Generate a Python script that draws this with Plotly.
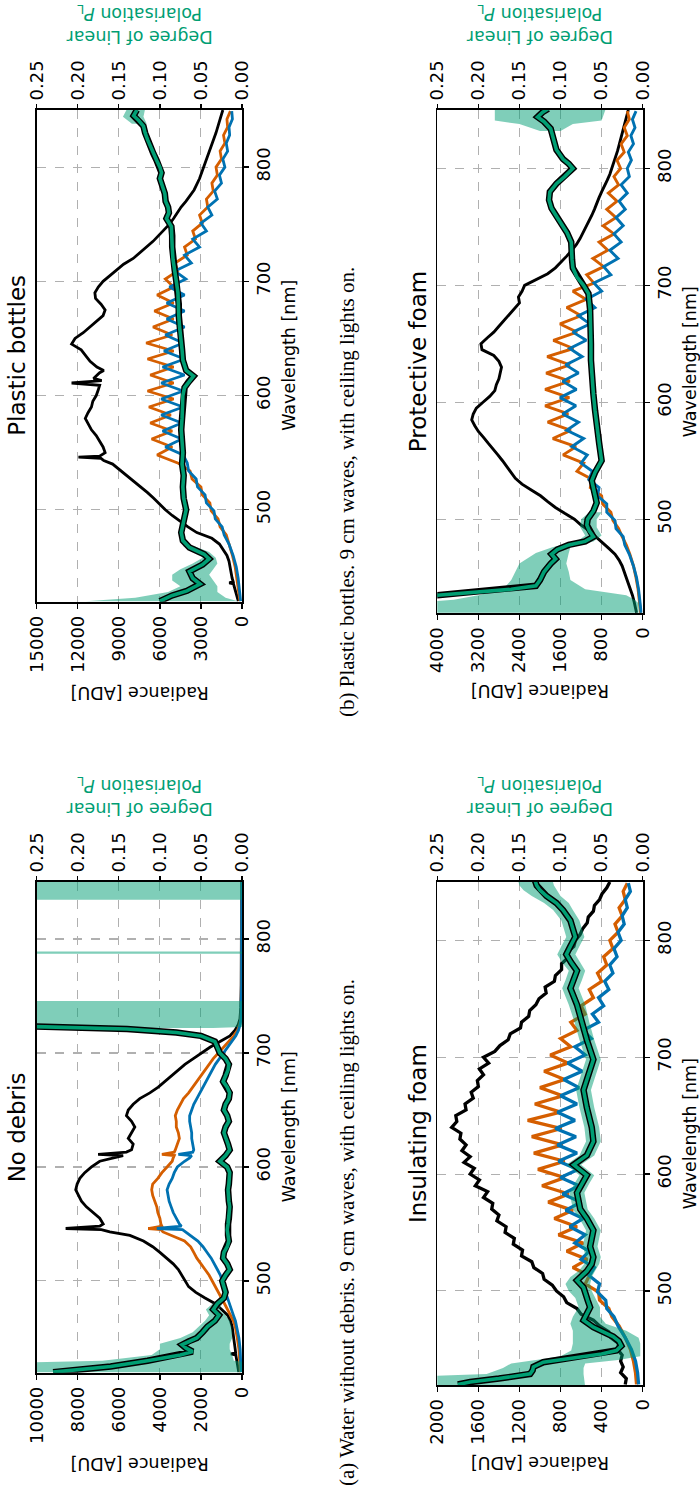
import plotly.graph_objects as go

W, H = 700, 1496
GREEN = '#009E73'
ORANGE = '#D55E00'
BLUE = '#0072B2'
BAND_FILL = 'rgba(0,158,115,0.5)'
GRID = '#b0b0b0'
FONT = 'DejaVu Sans'
WL_RANGE = [419.5, 850]
WL_TICKS = [500, 600, 700, 800]
DOLP_TICKS = [0.00, 0.05, 0.10, 0.15, 0.20, 0.25]
DOLP_TICKTEXT = ['0.00', '0.05', '0.10', '0.15', '0.20', '0.25']

# ---------------- shared wavelength grid for oscillating polarisation channels
OSC_WL = [420, 430, 440, 450, 460, 470, 478, 485, 492, 499, 506, 513, 520, 527, 534, 541,
          548, 555, 562, 569, 576, 583, 590, 597, 604, 611, 618, 625, 632, 639, 646, 653,
          660, 667, 674, 681, 688, 695, 702, 709, 716, 723, 730, 737, 744, 751, 758, 765,
          772, 779, 786, 793, 800, 807, 814, 821, 828, 835, 842, 849]
GRID5 = list(range(420, 851, 5))

# ================= (a) No debris =================
A_RAD_TICKS = [0, 2000, 4000, 6000, 8000, 10000]
A_BLACK_WL = [420, 425, 430, 435, 436, 437,
              440, 445, 450, 455, 460, 465, 470, 475, 480, 485, 490, 495, 500, 505, 510, 515,
              520, 525, 530, 535, 540,
              543, 545, 546, 548, 550,
              555, 560, 565, 570, 575, 580, 585, 590, 595, 600, 605,
              608, 610, 611, 613, 615,
              620, 625, 630, 635, 640, 645, 650, 655, 660, 665, 670, 675, 680, 685, 690, 695,
              700, 705, 710, 715, 720, 725, 730,
              740, 760, 800, 850]
A_BLACK = [160, 200, 250, 300, 540, 310,
           330, 370, 400, 430, 480, 560, 700, 990, 1300, 1800, 2250, 2600, 2780, 2950, 3100, 3350,
           3650, 4000, 4350, 4800, 5460,
           6440, 6850, 8590, 6930, 6760,
           6930, 7250, 7580, 7820, 7980, 8100, 8030, 7900, 7660, 7330, 6930,
           6280, 5790, 7010, 5630, 5380,
           5300, 5540, 5380, 5220, 5380, 5630, 5540, 5300, 4980, 4490, 4080, 3760, 3430, 3110,
           2780, 2370, 1970, 1560, 1070, 590, 340, 180, 100,
           60, 40, 30, 20]
A_POL_WL = [420, 430, 440, 450, 460,
            465, 470, 475, 480, 485, 490, 495, 500,
            505, 510, 515, 520, 525, 530, 535, 540,
            543, 545, 546, 548, 550,
            555, 560, 565, 570, 575, 580, 585, 590, 595, 600,
            605, 608, 610, 611, 613, 615,
            620, 625, 630, 635, 640, 645, 650, 655, 660, 665,
            670, 675, 680, 685, 690, 695, 700, 705, 710, 715,
            720, 725, 730, 740, 760, 800, 850]
A_ORANGE = [80, 110, 150, 230, 330,
            420, 550, 700, 850, 1000, 1150, 1300, 1450,
            1600, 1800, 2000, 2200, 2350, 2500, 2800, 3500,
            3850, 3950, 4570, 3900, 3950,
            4000, 4100, 4150, 4250, 4350, 4400, 4350, 4100, 3900, 3650,
            3400, 3350, 3300, 3900, 3300, 3250,
            3150, 3050, 3100, 3200, 3200, 3250, 3150, 3000, 2850, 2600,
            2400, 2200, 2000, 1800, 1600, 1400, 1150, 900, 650, 400,
            220, 110, 60, 30, 20, 20, 10]
A_BLUE = [40, 60, 90, 150, 250,
          320, 420, 520, 620, 720, 800, 880, 950,
          1050, 1200, 1350, 1500, 1700, 1900, 2150, 2500,
          2750, 2900, 4150, 2950, 3050,
          3200, 3350, 3450, 3550, 3600, 3650, 3550, 3400, 3300, 3150,
          2800, 2550, 2450, 3100, 2400, 2350,
          2400, 2450, 2450, 2500, 2550, 2550, 2450, 2350, 2200, 2050,
          1900, 1750, 1600, 1450, 1300, 1100, 900, 700, 500, 300,
          170, 90, 50, 30, 20, 20, 10]
A_DOLP_WL = [420, 425, 430, 435, 438, 441, 444, 447, 450,
             455, 460, 465, 470, 475, 480, 485, 490, 495, 500,
             505, 510, 515, 520, 525, 530, 535, 540, 545, 550,
             555, 560, 565, 570, 575, 580, 585, 590, 595, 600,
             605, 610, 615, 620, 625, 630, 635, 640, 645, 650,
             655, 660, 665, 670, 675, 680, 685, 690, 695, 700,
             705, 710, 715, 718, 721, 723, 725, 728]
A_DOLP = [0.23, 0.16, 0.115, 0.075, 0.06, 0.068, 0.073, 0.065, 0.055,
          0.048, 0.042, 0.033, 0.028, 0.035, 0.03, 0.022, 0.02, 0.022, 0.024,
          0.02, 0.015, 0.018, 0.023, 0.022, 0.018, 0.016, 0.017, 0.018, 0.017,
          0.016, 0.015, 0.015, 0.016, 0.017, 0.017, 0.016, 0.015, 0.015, 0.018,
          0.027, 0.02, 0.015, 0.017, 0.02, 0.022, 0.02, 0.016, 0.018, 0.022,
          0.02, 0.016, 0.015, 0.018, 0.023, 0.02, 0.017, 0.016, 0.02, 0.027,
          0.03, 0.033, 0.05, 0.08, 0.14, 0.2, 0.3, 0.5]
A_BAND_WL = [420, 425, 428, 430, 435, 440, 445, 450, 455, 460, 465, 470, 475, 480, 485, None,
             722, 723, 745.5, None, 787, 789, None, 834.5, 851]
A_BAND_LO = [-0.01, -0.01, -0.01, 0.01, 0.012, 0.015, 0.015, 0.012, 0.012, 0.013, 0.015, 0.02, 0.028, 0.024, 0.02, None,
             0.035, -0.01, -0.01, None, -0.01, -0.01, None, -0.01, -0.01]
A_BAND_HI = [0.3, 0.3, 0.3, 0.17, 0.11, 0.10, 0.10, 0.075, 0.06, 0.052, 0.045, 0.04, 0.044, 0.036, 0.025, None,
             0.3, 0.3, 0.3, None, 0.3, 0.3, None, 0.3, 0.3]

# ================= (b) Plastic bottles =================
B_RAD_TICKS = [0, 3000, 6000, 9000, 12000, 15000]
B_BLACK_WL = [420, 425, 430, 435, 436, 437,
              440, 445, 450, 455, 460, 465, 470, 475, 480, 485, 490, 495, 500, 505, 510, 515,
              520, 525, 530, 535, 540,
              543, 545, 546, 547, 550,
              555, 560, 565, 570, 575, 580, 585, 590, 595, 600, 605,
              609, 611, 613, 615,
              620, 622, 625,
              630, 635, 640, 645, 650, 655, 660, 665, 670, 675, 680, 685, 690, 695, 700, 705,
              710, 715, 720, 725, 730, 735, 740, 745, 750, 755, 760, 765, 770, 775, 780,
              790, 800, 810, 820, 830, 840, 850]
B_BLACK = [270, 400, 500, 620, 930, 640,
           720, 800, 880, 950, 1100, 1350, 1650, 2200, 3300, 3950, 4550, 5100, 5600, 6000, 6450, 6900,
           7400, 7900, 8400, 8900, 9450,
           10100, 10300, 11950, 10400, 10000,
           10150, 10400, 10650, 11000, 11250, 11450, 11250, 11000, 10900, 10650, 10500,
           10400, 12450, 10250, 10850,
           10400, 10100, 10600,
           11100, 11400, 11750, 12450, 12200, 11600, 11100, 10650, 10150, 10000, 10300, 10700, 10750, 10500, 10150, 9650,
           9150, 8650, 7950, 7450, 6950, 6500, 6100, 5700, 5300, 5000, 4750, 4450, 4100, 3800, 3500,
           3100, 2800, 2450, 2150, 1900, 1650, 1400]
B_ORANGE = [150, 250, 350, 500, 700, 950,
            1150, 1600, 1750, 2250, 2350, 2900, 3000, 3650, 3800, 4700,
            6200, 5100, 6600, 5100, 6700, 5200, 6800, 5000, 6900, 5000,
            6700, 5000, 6900, 5000, 7000, 5100, 6500, 5000, 6400, 5000,
            6200, 5000, 5600, 4700, 4900, 4000, 4200, 3400, 3600, 2900,
            3100, 2500, 2600, 2100, 2200, 1800, 1900, 1500, 1600, 1250,
            1350, 1050, 1100, 850]
B_BLUE = [100, 180, 280, 420, 650, 950,
          1300, 1450, 1950, 2050, 2600, 2700, 3250, 3350, 3900, 4000,
          4300, 5600, 4400, 5800, 4400, 5900, 4300, 5900, 4300, 5900,
          4200, 5800, 4200, 5700, 4300, 5600, 4200, 5500, 4200, 5500,
          4200, 5300, 4100, 4900, 3700, 4200, 3100, 3600, 2600, 3000,
          2200, 2500, 1800, 2000, 1500, 1650, 1250, 1400, 1050, 1150,
          900, 950, 700, 750]
B_DOLP_WL = [420, 425, 429, 435, 440, 446, 452, 457, 461, 467,
             473, 480, 490, 500, 510, 520, 530, 540, 550, 560,
             570, 580, 590, 600, 607, 612, 617, 622, 631, 640,
             650, 660, 670, 680, 690, 700, 710, 719, 730, 740,
             748, 755, 760, 765, 770, 777, 785, 790, 795, 800,
             806, 812, 818, 824, 830, 836, 841, 845, 850]
B_DOLP = [0.10, 0.085, 0.067, 0.051, 0.06, 0.064, 0.048, 0.04, 0.046, 0.064,
          0.072, 0.074, 0.071, 0.068, 0.071, 0.072, 0.071, 0.073, 0.072, 0.073,
          0.074, 0.073, 0.072, 0.072, 0.07, 0.065, 0.059, 0.068, 0.072, 0.073,
          0.075, 0.076, 0.077, 0.077, 0.078, 0.08, 0.082, 0.084, 0.085, 0.085,
          0.086, 0.092, 0.089, 0.09, 0.093, 0.094, 0.097, 0.1, 0.098, 0.1,
          0.104, 0.108, 0.112, 0.115, 0.118, 0.12, 0.126, 0.132, 0.128]
B_BAND_WL = [420, 423, 428, 433, 438, 443, 448, 453, 458, 463, 468, None, 838, 844, 851]
B_BAND_LO = [0.005, 0.02, 0.03, 0.03, 0.035, 0.04, 0.035, 0.03, 0.032, 0.04, 0.058, None, 0.116, 0.12, 0.118]
B_BAND_HI = [0.19, 0.13, 0.09, 0.075, 0.085, 0.085, 0.075, 0.06, 0.048, 0.055, 0.072, None, 0.134, 0.145, 0.14]

# ================= (c) Insulating foam =================
C_RAD_TICKS = [0, 400, 800, 1200, 1600, 2000]
C_BLACK = [170, 160, 215, 190, 215, 200, 245, 235, 310, 330, 420, 480, 600, 640, 740, 770, 840,
           880, 960, 975, 1060, 1080, 1180, 1170, 1260, 1250, 1340, 1330, 1420, 1400, 1470, 1460,
           1550, 1510, 1630, 1590, 1680,
           1640, 1740, 1680, 1760, 1720, 1780, 1770, 1860, 1810, 1820, 1720, 1730, 1650, 1670, 1600,
           1610, 1550, 1590, 1500, 1550,
           1440, 1390, 1310, 1290, 1190, 1180, 1110, 1100, 1040, 1010, 940, 950, 860, 850, 790,
           790, 730, 730, 670, 655,
           610, 585, 540, 530, 480, 470, 420, 395, 350, 320]
C_ORANGE = [60, 70, 90, 120, 170, 230,
            300, 330, 420, 430, 560, 520, 680, 540, 740, 580,
            820, 640, 860, 680, 920, 720, 980, 760, 1020, 760,
            1060, 780, 1080, 790, 1120, 800, 1050, 780, 1000, 760,
            960, 730, 900, 700, 800, 640, 700, 560, 600, 480,
            520, 400, 440, 350, 380, 290, 320, 240, 270, 200,
            230, 170, 190, 150]
C_BLUE = [40, 50, 70, 110, 170, 240,
          280, 350, 360, 440, 420, 520, 470, 600, 520, 660,
          560, 710, 580, 750, 600, 780, 620, 800, 630, 820,
          640, 830, 650, 850, 660, 830, 640, 800, 620, 770,
          590, 730, 560, 660, 500, 580, 430, 490, 380, 430,
          330, 370, 290, 320, 250, 280, 210, 240, 180, 200,
          150, 170, 120, 140]
C_DOLP_WL = [420, 422, 425, 429, 432, 435, 439, 442, 446, 449,
             453, 457, 461, 465, 469, 475, 481, 486, 492, 498,
             503, 509, 517, 523, 529, 538, 552, 562, 570, 584,
             592, 599, 608, 616, 628, 640, 657, 672, 685, 698,
             715, 730, 745, 759, 766, 774, 781, 788, 795, 803,
             810, 817, 826, 832, 838, 843, 847, 851]
C_DOLP = [0.225, 0.21, 0.175, 0.137, 0.134, 0.133, 0.121, 0.09, 0.05, 0.032,
          0.026, 0.029, 0.036, 0.048, 0.06, 0.072, 0.068, 0.064, 0.067, 0.07,
          0.072, 0.08, 0.068, 0.062, 0.06, 0.064, 0.06, 0.068, 0.076, 0.08,
          0.074, 0.068, 0.084, 0.068, 0.06, 0.062, 0.068, 0.072, 0.066, 0.06,
          0.068, 0.074, 0.08, 0.088, 0.084, 0.08, 0.087, 0.093, 0.088, 0.082,
          0.085, 0.088, 0.097, 0.105, 0.117, 0.125, 0.129, 0.131]
C_BAND_WL = [418, 426, 429, 434, 438, 441, 444, 449, 455, 460,
             466, 472, 478, 486, 494, 500, 506, 512, 517, 523,
             529, 538, 552, 562, 570, 584, 592, 599, 608, 616,
             628, 640, 657, 672, 685, 698, 715, 730, 745, 759,
             766, 774, 781, 788, 795, 803, 810, 817, 826, 832,
             838, 843, 847, 852]
C_BAND_LO = [0.07, 0.072, 0.072, 0.072, 0.07, 0.03, 0.003, 0.003, 0.003, 0.005,
             0.02, 0.045, 0.052, 0.052, 0.058, 0.062, 0.064, 0.062, 0.058, 0.053,
             0.051, 0.055, 0.051, 0.059, 0.067, 0.071, 0.065, 0.059, 0.075, 0.059,
             0.051, 0.053, 0.059, 0.063, 0.057, 0.051, 0.059, 0.065, 0.07, 0.078,
             0.074, 0.07, 0.076, 0.082, 0.077, 0.071, 0.074, 0.077, 0.085, 0.09,
             0.1, 0.105, 0.108, 0.11]
C_BAND_HI = [0.3, 0.3, 0.19, 0.17, 0.16, 0.13, 0.10, 0.087, 0.085, 0.085,
             0.085, 0.088, 0.085, 0.078, 0.082, 0.09, 0.094, 0.088, 0.078, 0.071,
             0.069, 0.073, 0.069, 0.077, 0.085, 0.089, 0.083, 0.077, 0.093, 0.077,
             0.069, 0.071, 0.077, 0.081, 0.075, 0.069, 0.077, 0.083, 0.09, 0.098,
             0.094, 0.09, 0.098, 0.104, 0.099, 0.093, 0.096, 0.099, 0.109, 0.12,
             0.135, 0.145, 0.15, 0.152]

# ================= (d) Protective foam =================
D_RAD_TICKS = [0, 800, 1600, 2400, 3200, 4000]
D_BLACK = [120, 140, 170, 200, 240, 290, 320, 360, 400, 460, 540, 660, 780, 900, 1040, 1200, 1330,
           1520, 1700, 1850, 1990, 2170, 2350, 2480, 2560, 2640, 2730, 2820, 2920, 3010, 3100, 3200,
           3270, 3330, 3300, 3240, 3110,
           2980, 2880, 2850, 2800, 2780, 2750, 2800, 2900, 3130, 3150, 3030, 2900, 2800, 2700, 2600,
           2490, 2400, 2420, 2350, 2300,
           2080, 1850, 1700, 1580, 1480, 1380, 1290, 1220, 1160, 1100, 1040, 990, 940, 900, 850,
           800, 740, 690, 640, 600,
           560, 520, 490, 460, 430, 400, 370, 340, 310, 280]
D_ORANGE = [40, 60, 90, 130, 180, 250,
            320, 400, 470, 580, 620, 780, 800, 1020, 980, 1280,
            1150, 1550, 1300, 1750, 1400, 1850, 1450, 1900, 1430, 1900,
            1420, 1880, 1420, 1860, 1350, 1740, 1280, 1610, 1200, 1480,
            1100, 1360, 950, 1090, 760, 970, 680, 850, 560, 770,
            520, 700, 500, 670, 470, 560, 430, 500, 360, 420,
            300, 360, 260, 300]
D_BLUE = [30, 50, 80, 120, 180, 260,
          350, 380, 520, 540, 700, 700, 880, 850, 1050, 980,
          1200, 1080, 1380, 1150, 1480, 1250, 1560, 1300, 1610, 1290,
          1560, 1250, 1500, 1180, 1420, 1100, 1360, 1030, 1250, 930,
          1100, 800, 950, 620, 760, 480, 640, 420, 560, 380,
          520, 340, 460, 300, 420, 260, 300, 220, 280, 180,
          230, 150, 200, 130]
D_DOLP_WL = [420, 430, 435, 440, 443, 448, 455, 462, 466, 470,
             474, 478, 481, 485, 490, 495, 500, 507, 514, 520,
             525, 533, 540, 550, 565, 579, 593, 607, 622, 636,
             650, 664, 679, 693, 700, 707, 715, 722, 730, 737,
             745, 751, 758, 766, 773, 780, 787, 793, 800, 804,
             808, 816, 825, 834, 840, 844, 848, 851]
D_DOLP = [0.45, 0.33, 0.25, 0.16, 0.13, 0.125, 0.12, 0.112, 0.106, 0.111,
          0.104, 0.09, 0.07, 0.06, 0.065, 0.068, 0.067, 0.06, 0.056, 0.058,
          0.059, 0.062, 0.058, 0.05, 0.053, 0.056, 0.058, 0.06, 0.062, 0.063,
          0.063, 0.063, 0.064, 0.066, 0.072, 0.08, 0.085, 0.086, 0.086, 0.087,
          0.092, 0.097, 0.104, 0.111, 0.114, 0.113, 0.105, 0.095, 0.085, 0.09,
          0.097, 0.105, 0.108, 0.112, 0.12, 0.128, 0.122, 0.115]
D_BAND_WL = [420, 428, 431, 435, 440, 448, 455, 462, 471, 476, 481, 486, 493, 500, 506, None,
             832, 838, 841, 851]
D_BAND_LO = [0.005, 0.005, 0.01, 0.02, 0.07, 0.088, 0.09, 0.093, 0.09, 0.088, 0.06, 0.05, 0.056, 0.056, 0.05, None,
             0.1, 0.085, 0.05, 0.045]
D_BAND_HI = [0.3, 0.3, 0.23, 0.2, 0.17, 0.16, 0.155, 0.15, 0.13, 0.11, 0.08, 0.07, 0.076, 0.075, 0.065, None,
             0.125, 0.15, 0.18, 0.18]

TITLES = ['No debris', 'Plastic bottles', 'Insulating foam', 'Protective foam']
CAPTIONS = ['(a) Water without debris. 9 cm waves, with ceiling lights on.',
            '(b) Plastic bottles. 9 cm waves, with ceiling lights on.']

PANELS = [
    dict(black_wl=A_BLACK_WL, black=A_BLACK, pol_wl=A_POL_WL, orange=A_ORANGE, blue=A_BLUE,
         dolp_wl=A_DOLP_WL, dolp=A_DOLP, band=(A_BAND_WL, A_BAND_LO, A_BAND_HI), ticks=A_RAD_TICKS),
    dict(black_wl=B_BLACK_WL, black=B_BLACK, pol_wl=OSC_WL, orange=B_ORANGE, blue=B_BLUE,
         dolp_wl=B_DOLP_WL, dolp=B_DOLP, band=(B_BAND_WL, B_BAND_LO, B_BAND_HI), ticks=B_RAD_TICKS),
    dict(black_wl=GRID5, black=C_BLACK, pol_wl=OSC_WL, orange=C_ORANGE, blue=C_BLUE,
         dolp_wl=C_DOLP_WL, dolp=C_DOLP, band=(C_BAND_WL, C_BAND_LO, C_BAND_HI), ticks=C_RAD_TICKS),
    dict(black_wl=GRID5, black=D_BLACK, pol_wl=OSC_WL, orange=D_ORANGE, blue=D_BLUE,
         dolp_wl=D_DOLP_WL, dolp=D_DOLP, band=(D_BAND_WL, D_BAND_LO, D_BAND_HI), ticks=D_RAD_TICKS),
]

# layout geometry in pixels (left, right, top, bottom) of each axes box
BOXES = [(36.7, 242.0, 882.0, 1372.7),
         (36.7, 242.0, 110.0, 601.7),
         (437.3, 642.7, 882.0, 1385.0),
         (437.3, 642.7, 110.0, 613.3)]
LINE_W = [2.8, 2.8, 3.3, 2.9]
RAD_LABEL_Y = [1464, 693, 1463, 691]
CAPTION_POS = [(347, 1233), (347, 492)]

for p in PANELS:
    assert len(p['black_wl']) == len(p['black'])
    assert len(p['pol_wl']) == len(p['orange']) == len(p['blue'])
    assert len(p['dolp_wl']) == len(p['dolp'])
    assert len(p['band'][0]) == len(p['band'][1]) == len(p['band'][2])


def band_polygon(wl, lo, hi):
    xs, ys, seg = [], [], []
    for w, l, h in zip(list(wl) + [None], list(lo) + [None], list(hi) + [None]):
        if w is None:
            if seg:
                xs += [s[1] for s in seg] + [s[2] for s in reversed(seg)] + [None]
                ys += [s[0] for s in seg] + [s[0] for s in reversed(seg)] + [None]
            seg = []
        else:
            seg.append((w, l, h))
    return xs, ys


def axref(prefix, n):
    return prefix if n == 1 else f'{prefix}{n}'


fig = go.Figure()
layout = {}
annotations = []


def ann(text, px, py, size, angle, color='black', family=FONT):
    return dict(text=text, x=px / W, y=1 - py / H, xref='paper', yref='paper', showarrow=False,
                textangle=angle, font=dict(family=family, size=size, color=color),
                xanchor='center', yanchor='middle')


for i, p in enumerate(PANELS):
    nx_r, nx_d, ny = 2 * i + 1, 2 * i + 2, i + 1
    xr, xd, yy = axref('x', nx_r), axref('x', nx_d), axref('y', ny)
    left, right, top, bottom = BOXES[i]
    xdom = [left / W, right / W]
    ydom = [1 - bottom / H, 1 - top / H]
    rmax = p['ticks'][-1]
    lw = LINE_W[i]

    common_tick = dict(ticks='outside', ticklen=5, tickwidth=1.3, tickcolor='black',
                       tickfont=dict(family=FONT, size=18, color='black'), tickangle=-90,
                       zeroline=False, fixedrange=True, automargin=False)
    layout[axref('xaxis', nx_r)] = dict(domain=xdom, anchor=yy, range=[rmax, 0], autorange=False,
                                        tickmode='array', tickvals=p['ticks'],
                                        ticktext=[str(t) for t in p['ticks']],
                                        showline=True, linecolor='black', linewidth=1.8, mirror=True,
                                        showgrid=True, gridcolor=GRID, griddash='dash', gridwidth=1.1,
                                        **common_tick)
    layout[axref('xaxis', nx_d)] = dict(domain=xdom, anchor=yy, overlaying=xr, side='top',
                                        range=[0.25, 0], autorange=False, tickmode='array',
                                        tickvals=DOLP_TICKS, ticktext=DOLP_TICKTEXT,
                                        showline=False, showgrid=False, **common_tick)
    layout[axref('yaxis', ny)] = dict(domain=ydom, anchor=xr, side='right', range=WL_RANGE,
                                      autorange=False, tickmode='array', tickvals=WL_TICKS,
                                      showline=True, linecolor='black', linewidth=1.8, mirror=True,
                                      showgrid=True, gridcolor=GRID, griddash='dash', gridwidth=1.1,
                                      **common_tick)

    # radiance channels
    fig.add_trace(go.Scatter(x=p['black'], y=p['black_wl'], mode='lines',
                             line=dict(color='black', width=lw), xaxis=xr, yaxis=yy, hoverinfo='skip'))
    fig.add_trace(go.Scatter(x=p['orange'], y=p['pol_wl'], mode='lines',
                             line=dict(color=ORANGE, width=lw), xaxis=xr, yaxis=yy, hoverinfo='skip'))
    fig.add_trace(go.Scatter(x=p['blue'], y=p['pol_wl'], mode='lines',
                             line=dict(color=BLUE, width=lw), xaxis=xr, yaxis=yy, hoverinfo='skip'))
    # DoLP band and line
    bx, by = band_polygon(*p['band'])
    fig.add_trace(go.Scatter(x=bx, y=by, mode='lines', fill='toself', fillcolor=BAND_FILL,
                             line=dict(width=0, color='rgba(0,0,0,0)'), xaxis=xd, yaxis=yy,
                             hoverinfo='skip'))
    fig.add_trace(go.Scatter(x=p['dolp'], y=p['dolp_wl'], mode='lines',
                             line=dict(color='black', width=6.5), xaxis=xd, yaxis=yy, hoverinfo='skip'))
    fig.add_trace(go.Scatter(x=p['dolp'], y=p['dolp_wl'], mode='lines',
                             line=dict(color=GREEN, width=3.6), xaxis=xd, yaxis=yy, hoverinfo='skip'))

    cx, cy = (left + right) / 2, (top + bottom) / 2
    annotations.append(ann(TITLES[i], left - 19.7, cy, 23, -90))
    annotations.append(ann('Radiance [ADU]', cx, RAD_LABEL_Y[i], 17.5, 180))
    annotations.append(ann('Degree of Linear<br>Polarisation <i>P</i><sub>L</sub>', cx, top - 85,
                           17.5, 180, color=GREEN))
    annotations.append(ann('Wavelength [nm]', right + 47, cy, 17.5, -90))

for i, cap in enumerate(CAPTIONS):
    annotations.append(ann(cap, CAPTION_POS[i][0], CAPTION_POS[i][1], 21, -90,
                           family='Liberation Serif'))

fig.update_layout(template='none', width=W, height=H, margin=dict(l=0, r=0, t=0, b=0, pad=0),
                  autosize=False, paper_bgcolor='white', plot_bgcolor='white', showlegend=False,
                  annotations=annotations, **layout)

fig.write_html('out.html', config={'displayModeBar': False, 'staticPlot': True},
               post_script="document.body.style.margin='0px';")
